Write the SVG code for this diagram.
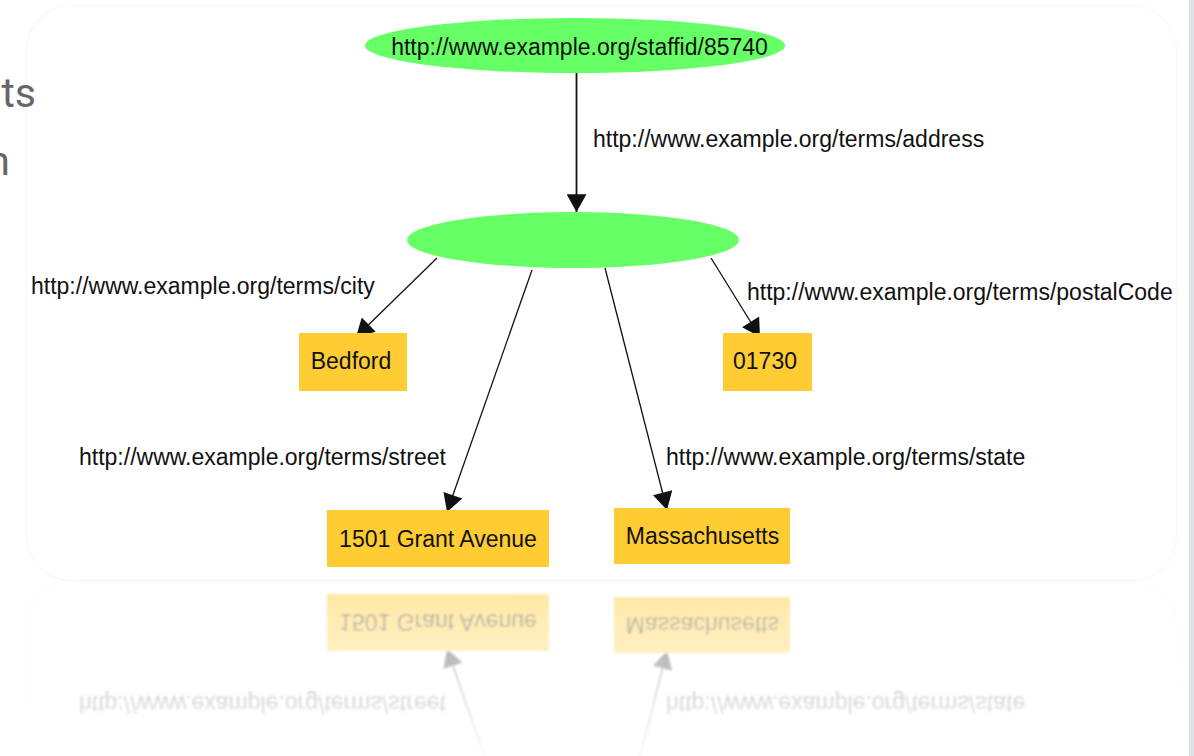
<svg xmlns="http://www.w3.org/2000/svg" xmlns:xlink="http://www.w3.org/1999/xlink" width="1194" height="756" viewBox="0 0 1194 756">
<style>
  .lbl { font-family: "Liberation Sans", Arial, sans-serif; font-size: 23px; fill: #111; }
  .mid { text-anchor: middle; }
  .res { fill: #66ff66; }
  .lit { fill: #ffcc33; }
  .edge { stroke: #111; stroke-width: 1.3; fill: none; marker-end: url(#arrow); }
  .side { font-family: Roboto, "Liberation Sans", sans-serif; font-size: 41px; fill: #666; text-anchor: end; }
</style>
<defs>
  <marker id="arrow" markerUnits="userSpaceOnUse" markerWidth="20" markerHeight="20" viewBox="0 0 16 18" refX="16" refY="9" orient="auto">
    <path d="M0,0 L16,9 L0,18 Z" fill="#111"/>
  </marker>
  <linearGradient id="fadeGrad" gradientUnits="userSpaceOnUse" x1="0" y1="580" x2="0" y2="756">
    <stop offset="0" stop-color="#fff" stop-opacity="0.48"/>
    <stop offset="1" stop-color="#fff" stop-opacity="0.03"/>
  </linearGradient>
  <mask id="fade" maskUnits="userSpaceOnUse" x="0" y="581" width="1194" height="175">
    <rect x="0" y="581" width="1194" height="175" fill="url(#fadeGrad)"/>
  </mask>
  <filter id="soft" x="-5%" y="-5%" width="110%" height="110%">
    <feGaussianBlur stdDeviation="0.8"/>
  </filter>
</defs>
<rect width="1194" height="756" fill="#fff"/>
<rect x="1189" y="0" width="5" height="756" fill="#dde3e6"/>

<g id="panel">
  <rect x="26.5" y="5.5" width="1150" height="575" rx="45" fill="none" stroke="#f5f5f5"/>
  <g id="connectors">
    <line class="edge" x1="576.5" y1="73" x2="576.5" y2="212" style="stroke-width:1.8"/>
    <line class="edge" x1="437" y1="258" x2="356" y2="337"/>
    <line class="edge" x1="711" y1="258" x2="760" y2="337"/>
    <line class="edge" x1="532" y1="270" x2="447" y2="512"/>
    <line class="edge" x1="605" y1="268" x2="667" y2="510"/>
    <text class="lbl" x="593" y="147">http://www.example.org/terms/address</text>
    <text class="lbl" x="31" y="294">http://www.example.org/terms/city</text>
    <text class="lbl" x="747" y="300">http://www.example.org/terms/postalCode</text>
    <text class="lbl" x="79" y="465">http://www.example.org/terms/street</text>
    <text class="lbl" x="666" y="465">http://www.example.org/terms/state</text>
  </g>
  <g id="staff">
    <ellipse class="res" cx="575" cy="45.5" rx="210" ry="27.5"/>
    <text class="lbl mid" x="579.5" y="55">http://www.example.org/staffid/85740</text>
  </g>
  <g id="address">
    <ellipse class="res" cx="573" cy="240" rx="166" ry="28"/>
  </g>
  <g id="bedford">
    <rect class="lit" x="299" y="333" width="108" height="58"/>
    <text class="lbl mid" x="351" y="369">Bedford</text>
  </g>
  <g id="postal">
    <rect class="lit" x="723" y="333" width="89" height="58"/>
    <text class="lbl mid" x="765" y="369">01730</text>
  </g>
  <g id="street">
    <rect class="lit" x="327" y="510" width="222" height="57"/>
    <text class="lbl mid" x="438" y="547">1501 Grant Avenue</text>
  </g>
  <g id="state">
    <rect class="lit" x="614" y="508" width="176" height="56"/>
    <text class="lbl mid" x="702.5" y="544">Massachusetts</text>
  </g>
</g>

<g id="reflection" mask="url(#fade)">
  <g filter="url(#soft)">
    <use xlink:href="#panel" href="#panel" transform="translate(0,1161) scale(1,-1)"/>
  </g>
</g>

<text class="side" x="36" y="107">ts</text>
<text class="side" x="10" y="175">n</text>
</svg>
